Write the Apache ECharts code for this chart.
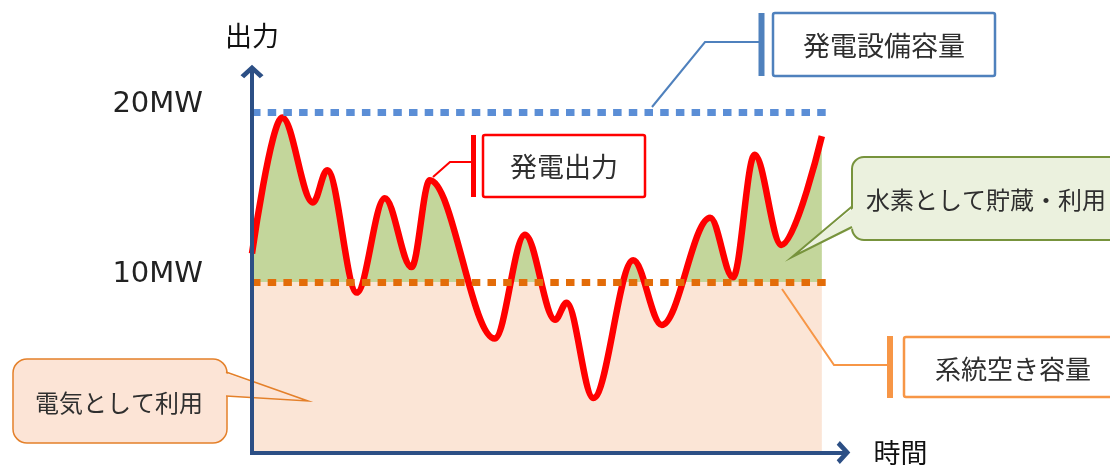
<!DOCTYPE html>
<html lang="ja">
<head>
<meta charset="UTF-8">
<title>発電出力と系統空き容量</title>
<script src="https://cdn.jsdelivr.net/npm/echarts@6/dist/echarts.min.js"></script>
<style>
    html, body { margin: 0; padding: 0; background: #fff; }
    #chart { width: 1110px; height: 467px; }
</style>
</head>
<body>
<div id="chart"></div>
<script>
    // 時間（任意単位）と発電出力（MW）
    var times  = [0, 5.3, 10.7, 13.2, 18.4, 23.3, 28.0, 31.2, 42.6, 47.9, 53.2, 55.2, 59.9, 66.9, 71.9, 80.4, 84.4, 88.2, 92.9, 100];
    var output = [11.7, 19.7, 14.7, 16.6, 9.4, 14.95, 10.9, 16.0, 6.7, 12.8, 7.8, 8.8, 3.2, 11.3, 7.5, 13.8, 10.3, 17.5, 12.2, 18.6];
    var capacity = 20;     // 発電設備容量
    var gridFree = 10;     // 系統空き容量
    var guideEnd = 101.4;  // 点線の右端（時間）
    var yTicks = [10, 20];
    var yTickLabels = ['10MW', '20MW'];
    var xMax = 103.8, yMax = 22.4;

    var pts = times.map(function (t, i) { return [t, output[i]]; });

    var axisColor = '#2C4F85';
    var arrow = 'path://M0,10 L11,0 L22,10 L18.5,13 L11,6 L3.5,13 Z';
    var jp = '"Noto Sans CJK JP", sans-serif';
    var txt = '#2f2f2f';

    var myChart = echarts.init(document.getElementById('chart'));
    var option = {
        animation: false,
        backgroundColor: '#fff',
        grid: { left: 252, right: 266.5, top: 71.5, bottom: 14.5 },
        xAxis: {
            type: 'value', min: 0, max: xMax, z: 5,
            axisLine: { lineStyle: { color: axisColor, width: 4, cap: 'square' }, symbol: ['none', arrow], symbolSize: [23, 14] },
            axisTick: { show: false }, axisLabel: { show: false }, splitLine: { show: false },
            name: '時間', nameLocation: 'end', nameGap: 30,
            nameTextStyle: { fontFamily: jp, fontSize: 27, color: '#111' }
        },
        yAxis: {
            type: 'value', min: 0, max: yMax, interval: 10, z: 5,
            axisLine: { show: true, lineStyle: { color: axisColor, width: 4, cap: 'square' }, symbol: ['none', arrow], symbolSize: [23, 14] },
            axisTick: { show: false }, splitLine: { show: false },
            axisLabel: {
                margin: 49, fontFamily: 'DejaVu Sans', fontSize: 29, color: '#222',
                verticalAlign: 'bottom', lineHeight: 15,
                formatter: function (v) {
                    var i = yTicks.indexOf(v);
                    return i < 0 ? '' : yTickLabels[i];
                }
            },
            name: '出力', nameLocation: 'end', nameGap: 22,
            nameTextStyle: { fontFamily: jp, fontSize: 27, color: '#111', align: 'center' }
        },
        visualMap: {
            show: false, type: 'piecewise', seriesIndex: 0, dimension: 1,
            pieces: [
                { gt: gridFree, lte: 100, color: '#C3D69B' },
                { gt: -100, lte: gridFree, color: '#FBE5D6' }
            ]
        },
        series: [
            {
                // 塗り（10MW以上は緑、以下は薄橙）
                type: 'line', data: pts, smooth: 0.35, smoothMonotone: 'x',
                symbol: 'none', silent: true, z: 1,
                lineStyle: { width: 0 },
                areaStyle: { opacity: 1 }
            },
            {
                type: 'line', data: pts, smooth: 0.35, smoothMonotone: 'x',
                symbol: 'none', silent: true, z: 3,
                lineStyle: { color: '#FF0000', width: 6.5 },
                markLine: {
                    silent: true, symbol: ['none', 'none'], label: { show: false },
                    lineStyle: { type: [8.5, 7.2], width: 7, cap: 'butt', opacity: 1 },
                    data: [
                        [{ coord: [0, capacity], lineStyle: { color: '#5B8ED6' } }, { coord: [guideEnd, capacity] }],
                        [{ coord: [0, gridFree], lineStyle: { color: '#E36C09' } }, { coord: [guideEnd, gridFree] }]
                    ]
                }
            }
        ],
        graphic: [
            // 発電設備容量
            { type: 'polyline', z: 10, shape: { points: [[761, 42], [705, 42], [652, 107]] }, style: { stroke: '#4F81BD', lineWidth: 2, fill: null } },
            { type: 'line', z: 10, shape: { x1: 761.5, y1: 13, x2: 761.5, y2: 76 }, style: { stroke: '#4F81BD', lineWidth: 6 } },
            { type: 'rect', z: 10, shape: { x: 773, y: 13, width: 222, height: 63, r: 2 }, style: { fill: '#fff', stroke: '#4F81BD', lineWidth: 2.5 } },
            { type: 'text', z: 11, x: 884, y: 46, style: { text: '発電設備容量', font: '27px ' + jp, fill: txt, align: 'center', verticalAlign: 'middle' } },

            // 発電出力
            { type: 'polyline', z: 10, shape: { points: [[473, 162], [450, 162], [433, 177]] }, style: { stroke: '#FF0000', lineWidth: 2, fill: null } },
            { type: 'line', z: 10, shape: { x1: 473.5, y1: 135, x2: 473.5, y2: 197 }, style: { stroke: '#FF0000', lineWidth: 5 } },
            { type: 'rect', z: 10, shape: { x: 483, y: 135, width: 162, height: 62, r: 2 }, style: { fill: '#fff', stroke: '#FF0000', lineWidth: 2.5 } },
            { type: 'text', z: 11, x: 564, y: 167, style: { text: '発電出力', font: '27px ' + jp, fill: txt, align: 'center', verticalAlign: 'middle' } },

            // 水素として貯蔵・利用
            { type: 'rect', z: 10, shape: { x: 852, y: 157, width: 270, height: 83, r: 12 }, style: { fill: '#EBF1DE', stroke: '#77933C', lineWidth: 2 } },
            { type: 'polygon', z: 10, shape: { points: [[856, 206], [792, 257], [856, 227]] }, style: { fill: '#EBF1DE' } },
            { type: 'polyline', z: 10, shape: { points: [[852, 206.5], [792, 257], [852, 227]] }, style: { stroke: '#77933C', lineWidth: 2, fill: null } },
            { type: 'text', z: 11, x: 866, y: 200, style: { text: '水素として貯蔵・利用', font: '24px ' + jp, fill: txt, align: 'left', verticalAlign: 'middle' } },

            // 系統空き容量
            { type: 'polyline', z: 10, shape: { points: [[890, 365], [834, 365], [782, 289]] }, style: { stroke: '#F79646', lineWidth: 2, fill: null } },
            { type: 'line', z: 10, shape: { x1: 890, y1: 336, x2: 890, y2: 398 }, style: { stroke: '#F79646', lineWidth: 6 } },
            { type: 'rect', z: 10, shape: { x: 904, y: 337, width: 220, height: 60, r: 2 }, style: { fill: '#fff', stroke: '#F79646', lineWidth: 2.5 } },
            { type: 'text', z: 11, x: 1013, y: 369, style: { text: '系統空き容量', font: '26px ' + jp, fill: txt, align: 'center', verticalAlign: 'middle' } },

            // 電気として利用
            { type: 'rect', z: 4, shape: { x: 13, y: 359, width: 214, height: 84, r: 14 }, style: { fill: '#FCE4D6', stroke: '#E4802A', lineWidth: 1.5 } },
            { type: 'polygon', z: 4, shape: { points: [[222, 372], [308, 401], [222, 396]] }, style: { fill: '#FCE4D6' } },
            { type: 'polyline', z: 4, shape: { points: [[226, 372], [308, 401], [226, 396]] }, style: { stroke: '#E4802A', lineWidth: 1.5, fill: null } },
            { type: 'text', z: 4, x: 119, y: 403, style: { text: '電気として利用', font: '24px ' + jp, fill: txt, align: 'center', verticalAlign: 'middle' } }
        ]
    };
    myChart.setOption(option);
</script>
</body>
</html>
